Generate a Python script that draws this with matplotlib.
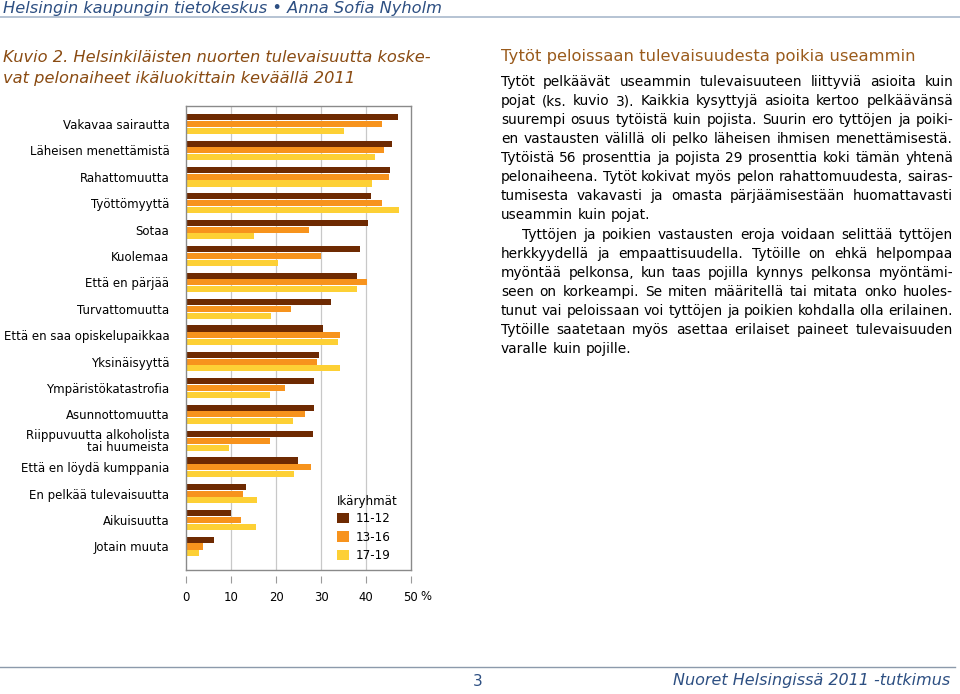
import matplotlib
matplotlib.use("Agg")
import matplotlib.pyplot as plt
import numpy as np

plt.rcParams["font.family"] = ["DejaVu Sans"]

# data (percent)
categories = ["Vakavaa sairautta", "Läheisen menettämistä", "Rahattomuutta",
              "Työttömyyttä", "Sotaa", "Kuolemaa", "Että en pärjää",
              "Turvattomuutta", "Että en saa opiskelupaikkaa", "Yksinäisyyttä",
              "Ympäristökatastrofia", "Asunnottomuutta",
              "Riippuvuutta alkoholista\ntai huumeista",
              "Että en löydä kumppania", "En pelkää tulevaisuutta",
              "Aikuisuutta", "Jotain muuta"]
age_11_12 = [47.0, 45.7, 45.3, 41.0, 40.5, 38.7, 38.0, 32.2, 30.5, 29.6,
             28.5, 28.4, 28.3, 24.8, 13.3, 10.1, 6.3]
age_13_16 = [43.6, 43.9, 45.1, 43.5, 27.4, 29.9, 40.2, 23.4, 34.2, 29.2,
             22.0, 26.5, 18.7, 27.8, 12.6, 12.2, 3.8]
age_17_19 = [35.1, 42.1, 41.3, 47.4, 15.2, 20.4, 38.0, 18.9, 33.8, 34.2,
             18.6, 23.8, 9.5, 24.1, 15.8, 15.5, 2.8]
groups = ["11-12", "13-16", "17-19"]
colors = ["#6e2a02", "#f7931d", "#fdd035"]
xticks = [0, 10, 20, 30, 40, 50]

header = "Helsingin kaupungin tietokeskus \u2022 Anna Sofia Nyholm"
title_lines = ["Kuvio 2. Helsinkiläisten nuorten tulevaisuutta koske-",
               "vat pelonaiheet ikäluokittain keväällä 2011"]
side_title = "Tytöt peloissaan tulevaisuudesta poikia useammin"
body = [
    "Tytöt pelkäävät useammin tulevaisuuteen liittyviä asioita kuin",
    "pojat (ks. kuvio 3). Kaikkia kysyttyjä asioita kertoo pelkäävänsä",
    "suurempi osuus tytöistä kuin pojista. Suurin ero tyttöjen ja poiki-",
    "en vastausten välillä oli pelko läheisen ihmisen menettämisestä.",
    "Tytöistä 56 prosenttia ja pojista 29 prosenttia koki tämän yhtenä",
    "pelonaiheena. Tytöt kokivat myös pelon rahattomuudesta, sairas-",
    "tumisesta vakavasti ja omasta pärjäämisestään huomattavasti",
    "useammin kuin pojat.",
    "Tyttöjen ja poikien vastausten eroja voidaan selittää tyttöjen",
    "herkkyydellä ja empaattisuudella. Tytöille on ehkä helpompaa",
    "myöntää pelkonsa, kun taas pojilla kynnys pelkonsa myöntämi-",
    "seen on korkeampi. Se miten määritellä tai mitata onko huoles-",
    "tunut vai peloissaan voi tyttöjen ja poikien kohdalla olla erilainen.",
    "Tytöille saatetaan myös asettaa erilaiset paineet tulevaisuuden",
    "varalle kuin pojille.",
]
para_end = {7, 14}
para_start = {8}

W, H = 960, 694
fig = plt.figure(figsize=(W / 100, H / 100), dpi=100)
fig.patch.set_facecolor("white")


def fx(px):
    return px / W


def fy(py):
    return 1 - py / H


# header / footer
fig.text(fx(3), fy(8), header, fontsize=11.7, style="italic",
         color="#2d4f82", va="center", ha="left")
fig.add_artist(plt.Line2D([0, 1], [fy(17), fy(17)], color="#a9b9cc", lw=1.2))
fig.add_artist(plt.Line2D([0, fx(955)], [fy(667), fy(667)], color="#8c9aab", lw=1.0))
fig.text(fx(478), fy(681), "3", fontsize=11, color="#2d4f82", va="center", ha="center")
fig.text(fx(950), fy(681), "Nuoret Helsingissä 2011 -tutkimus", fontsize=11.5,
         style="italic", color="#2d4f82", va="center", ha="right")

for i, line in enumerate(title_lines):
    fig.text(fx(3), fy(58 + 20 * i), line, fontsize=11.7, style="italic",
             color="#8a4b12", va="center", ha="left")

# chart
ax = fig.add_axes([fx(186), fy(570), fx(411) - fx(186), fy(106) - fy(570)])
y = np.arange(len(categories))
h = 0.23
for k, (vals, c, g) in enumerate(zip([age_11_12, age_13_16, age_17_19], colors, groups)):
    ax.barh(y + (k - 1) * 0.255, vals, height=h, color=c, label=g, zorder=2)

ax.set_xlim(0, 50)
ax.set_ylim(16.89, -0.68)
ax.set_yticks(y)
ax.set_yticklabels(categories, fontsize=8.5, linespacing=0.9)
ax.tick_params(axis="y", length=0, pad=12)
ax.set_xticks(xticks[1:-1])
ax.tick_params(axis="x", length=0, labelbottom=False)
ax.grid(axis="x", color="#c8c8c8", lw=0.9, zorder=0)
for s in ax.spines.values():
    s.set_color("#8a8a8a")
    s.set_linewidth(1.0)

sec = ax.secondary_xaxis(-0.013)
sec.set_xticks(xticks)
sec.set_xticklabels([str(t) for t in xticks], fontsize=8.4)
sec.spines["bottom"].set_visible(False)
sec.tick_params(axis="x", length=5, color="#9a9a9a", pad=6)
fig.text(fx(426), fy(597), "%", fontsize=8.4, va="center", ha="center")

ax_w = fx(411) - fx(186)
leg = ax.legend(loc="lower left", bbox_to_anchor=((fx(337) - fx(186)) / ax_w, 0.017),
                title="Ikäryhmät", frameon=False, fontsize=8.6, title_fontsize=8.6,
                handlelength=1.0, handleheight=0.95, handletextpad=0.6,
                labelspacing=0.45, borderaxespad=0, borderpad=0)
leg._legend_box.align = "left"
leg._legend_box.sep = 3

# right-hand text column
fig.text(fx(501), fy(56), side_title, fontsize=11.8, color="#9a5b1c",
         va="center", ha="left")

renderer = fig.canvas.get_renderer()


def width_of(s, fs):
    t = fig.text(0, 0, s, fontsize=fs)
    w = t.get_window_extent(renderer).width
    t.remove()
    return w


fs_body = 9.9
space = width_of("a a", fs_body) - width_of("aa", fs_body)
x_left, x_right = 501, 953
for i, line in enumerate(body):
    yy = 82 + 19.07 * i
    words = line.split()
    x0 = x_left + (21 if i in para_start else 0)
    ws = [width_of(wd, fs_body) for wd in words]
    if i in para_end or len(words) < 2:
        gap = space
    else:
        gap = (x_right - x0 - sum(ws)) / (len(words) - 1)
    xx = x0
    for wd, wdt in zip(words, ws):
        fig.text(fx(xx), fy(yy), wd, fontsize=fs_body, color="black",
                 va="center", ha="left")
        xx += wdt + gap

fig.savefig("out.png", dpi=100)
